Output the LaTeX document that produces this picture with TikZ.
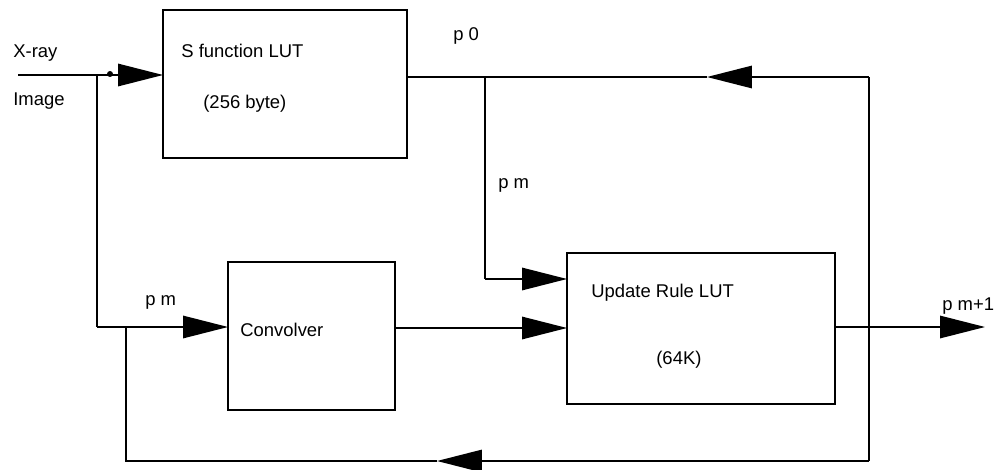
\documentclass[tikz,border=0pt]{standalone}
\usepackage{fontspec}
\setmainfont{Liberation Sans}
\usetikzlibrary{arrows.meta, positioning}
\tikzset{
  wire/.style     = {line width=0.8pt, black},
  flow/.style     = {wire, -{Triangle[length=0.9cm, width=0.45cm]}},
  block/.style    = {draw, line width=0.8pt, inner sep=0pt, outer sep=0pt},
  lbl/.style      = {anchor=base west, inner sep=0pt, font=\fontsize{10.5}{12}\selectfont},
  statedot/.style = {circle, fill=black, inner sep=1.2pt},
}
\begin{document}
\begin{tikzpicture}[x=0.02cm,y=-0.02cm]
  \useasboundingbox (0,0) rectangle (995,470);
  % blocks
  \node[block, minimum width=4.88cm, minimum height=2.96cm] (sfun)   at (285,84) {};
  \node[block, minimum width=3.34cm, minimum height=2.96cm] (conv)   at (311.5,336) {};
  \node[block, minimum width=5.36cm, minimum height=3.02cm] (update) at (701,328.5) {};
  \node[lbl] (sfunt)  at (181,57)  {S function LUT};
  \node[lbl] (sfuns)  at (203,108) {(256 byte)};
  \node[lbl] (convt)  at (240,336) {Convolver};
  \node[lbl] (updt)   at (591,297) {Update Rule LUT};
  \node[lbl] (upds)   at (656,364) {(64K)};
  % signal names
  \node[lbl] (xray)   at (13,57)   {X-ray};
  \node[lbl] (image)  at (13,105)  {Image};
  \node[lbl] (pzero)  at (453,40)  {p 0};
  \node[lbl] (pmtop)  at (498,188) {p m};
  \node[lbl] (pmlow)  at (145,305) {p m};
  \node[lbl] (pnext)  at (942,310) {p m+1};
  % wire points
  \coordinate (xin)  at (18,75);
  \coordinate (jin)  at (97,75);
  \coordinate (jlow) at (97,327);
  \coordinate (jfb)  at (126,327);
  \coordinate (cbl)  at (126,461);
  \coordinate (cbr)  at (869,461);
  \coordinate (ctr)  at (869,77);
  \coordinate (jtop) at (485,77);
  \coordinate (jpm)  at (485,279);
  \coordinate (mid)  at (480,328);
  \coordinate (tipt) at (707,77);
  \coordinate (tipb) at (437,461);
  \coordinate (pout) at (985,327);
  \node[statedot] (dot) at (110,74) {};
  % input side
  \draw[wire] (xin) -- (jin);
  \draw[flow] (jin) -- (sfun.west |- jin);
  \draw[wire] (jin) -- (jlow);
  \draw[flow] (jlow) -- (conv.west |- jlow);
  % p0 and pm into the update rule
  \draw[wire] (sfun.east |- jtop) -- (jtop);
  \draw[wire] (jtop) -- (jpm);
  \draw[flow] (jpm) -- (update.west |- jpm);
  \draw[flow] (conv.east |- mid) -- (update.west |- mid);
  \draw[flow] (update.east |- pout) -- (pout);
  % feedback loop
  \draw[wire] (cbr) -- (ctr);
  \draw[flow] (ctr) -- (tipt);
  \draw[wire] (tipt) -- (jtop);
  \draw[flow] (cbr) -- (tipb);
  \draw[wire] (tipb) -- (cbl) -- (jfb);
\end{tikzpicture}
\end{document}
